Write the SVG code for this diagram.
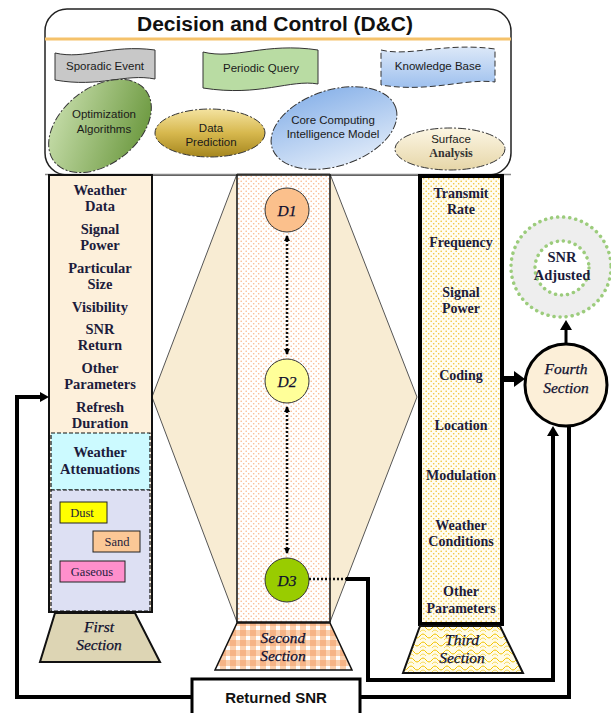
<svg xmlns="http://www.w3.org/2000/svg" width="611" height="713" viewBox="0 0 611 713">
<defs>
<style>
.ser{font-family:"Liberation Serif","Times New Roman",serif;font-weight:bold;font-size:14.5px;fill:#1c1c3c;text-anchor:middle}
.ser3{font-family:"Liberation Serif","Times New Roman",serif;font-weight:bold;font-size:14px;fill:#1c1c3c;text-anchor:middle}
.ita{font-family:"Liberation Serif","Times New Roman",serif;font-style:italic;font-size:15.5px;fill:#0e0e2e;text-anchor:middle;stroke:#0e0e2e;stroke-width:0.25}
.san{font-family:"Liberation Sans",Arial,sans-serif;font-size:11.5px;fill:#1a1a1a;text-anchor:middle}
.sm{font-family:"Liberation Serif","Times New Roman",serif;font-size:12.5px;fill:#1c1c3c;text-anchor:middle}
.thick{fill:none;stroke:#000;stroke-width:4}
.dd{stroke-dasharray:8 2 2 2}
</style>
<pattern id="pOrange" width="5" height="5" patternUnits="userSpaceOnUse"><rect width="5" height="5" fill="#fff"/><circle cx="1.2" cy="1.2" r="0.8" fill="#f9b98c"/><circle cx="3.7" cy="3.7" r="0.8" fill="#f9b98c"/></pattern>
<pattern id="pYellow" width="5" height="5" patternUnits="userSpaceOnUse"><rect width="5" height="5" fill="#fffdf2"/><circle cx="1.2" cy="1.2" r="0.8" fill="#f2c230"/><circle cx="3.7" cy="3.7" r="0.8" fill="#f2c230"/></pattern>
<pattern id="pCheck" width="10" height="10" patternUnits="userSpaceOnUse"><rect width="10" height="10" fill="#fff"/><rect width="6" height="10" fill="#fbd0ae"/><rect width="10" height="6" fill="#fbd0ae"/><rect width="6" height="6" fill="#f6b486"/></pattern>
<pattern id="pWave" width="12" height="8" patternUnits="userSpaceOnUse"><rect width="12" height="8" fill="#fffbe6"/><path d="M0,4 Q3,0 6,4 T12,4" fill="none" stroke="#f2c200" stroke-width="1"/><path d="M0,8 Q3,4 6,8" fill="none" stroke="#f2c200" stroke-width="0.6"/></pattern>
<linearGradient id="gGreen" x1="0" y1="0" x2="1" y2="1"><stop offset="0" stop-color="#d2e6b8"/><stop offset="1" stop-color="#5f8f30"/></linearGradient>
<linearGradient id="gGold" x1="0" y1="0" x2="0" y2="1"><stop offset="0" stop-color="#f4e3a0"/><stop offset="0.5" stop-color="#d7b84e"/><stop offset="1" stop-color="#a5861e"/></linearGradient>
<linearGradient id="gBlue" x1="0" y1="0" x2="0" y2="1"><stop offset="0" stop-color="#8fb6ea"/><stop offset="1" stop-color="#dce8f8"/></linearGradient>
<linearGradient id="gKB" x1="0" y1="0" x2="0" y2="1"><stop offset="0" stop-color="#dce8f8"/><stop offset="1" stop-color="#9ec0ee"/></linearGradient>
<linearGradient id="gBeige" x1="0" y1="0" x2="0" y2="1"><stop offset="0" stop-color="#fcf6e4"/><stop offset="1" stop-color="#e6d6a8"/></linearGradient>
<marker id="ahS" markerWidth="6" markerHeight="6" refX="5" refY="3" orient="auto-start-reverse" markerUnits="userSpaceOnUse"><path d="M0,0 L6,3 L0,6 Z" fill="#000"/></marker>
</defs>

<!-- Decision and Control -->
<g id="dc">
<rect x="45" y="9" width="466" height="166" rx="22" fill="#fff" stroke="#222" stroke-width="1.5"/>
<line x1="45" y1="39" x2="511" y2="39" stroke="#f5c26b" stroke-width="3"/>
<text x="275" y="31" font-family="Liberation Sans,Arial,sans-serif" font-weight="bold" font-size="20" fill="#111" text-anchor="middle" textLength="276" lengthAdjust="spacingAndGlyphs">Decision and Control (D&amp;C)</text>
</g>
<g id="sporadic">
<path d="M55,53 C85,60 110,44 155,50 L155,79 C125,73 100,88 55,80 Z" fill="#c8c8c8" stroke="#333" stroke-width="1"/>
<text class="san" x="105" y="70" font-size="10.5">Sporadic Event</text>
</g>
<g id="periodic">
<path d="M203,52 C235,60 265,42 318,50 L318,84 C290,79 260,97 203,88 Z" fill="#b9dca3" stroke="#333" stroke-width="1"/>
<text class="san" x="261" y="72" font-size="10.5">Periodic Query</text>
</g>
<g id="kb">
<path d="M381,50 C410,57 445,42 495,49 L495,82 C465,78 430,93 381,85 Z" fill="url(#gKB)" stroke="#333" stroke-width="1" stroke-dasharray="6 3"/>
<text class="san" x="438" y="70" font-size="10.5">Knowledge Base</text>
</g>
<g id="optim">
<ellipse cx="100" cy="126" rx="58" ry="38" transform="rotate(-38 100 126)" fill="url(#gGreen)" stroke="#333" stroke-width="1" class="dd"/>
<text class="san" x="104" y="118" font-size="12.5">Optimization</text>
<text class="san" x="104" y="133" font-size="12.5">Algorithms</text>
</g>
<g id="dataPred">
<ellipse cx="210" cy="133" rx="55" ry="24" fill="url(#gGold)" stroke="#333" stroke-width="1" class="dd"/>
<text class="san" x="211" y="132" font-size="12">Data</text>
<text class="san" x="211" y="146" font-size="12">Prediction</text>
</g>
<g id="core">
<ellipse cx="334" cy="128" rx="65" ry="38" transform="rotate(-18 334 128)" fill="url(#gBlue)" stroke="#333" stroke-width="1" class="dd"/>
<text class="san" x="333" y="124" font-size="12">Core Computing</text>
<text class="san" x="333" y="138" font-size="12">Intelligence Model</text>
</g>
<g id="surface">
<ellipse cx="450" cy="149" rx="55" ry="21" fill="url(#gBeige)" stroke="#333" stroke-width="1" class="dd"/>
<text class="san" x="451" y="143" font-size="12">Surface</text>
<text x="451" y="157" font-family="Liberation Serif,serif" font-weight="bold" font-size="12" fill="#333" text-anchor="middle">Analysis</text>
</g>
<line x1="45" y1="174.5" x2="511" y2="174.5" stroke="#888" stroke-width="1.5"/>

<!-- hexagon -->
<g id="hex">
<path d="M237,174 L152,397 L237,622 L330,622 L417,397 L330,174 Z" fill="#f8ecd3" stroke="#555" stroke-width="1"/>
</g>

<!-- First column -->
<g id="first">
<rect x="49" y="175" width="103" height="437" fill="#fdf0db" stroke="#111" stroke-width="2"/>
<rect x="51" y="433" width="99" height="57" fill="#ccfaff" stroke="#111" stroke-width="1.2" stroke-dasharray="4 2"/>
<rect x="51" y="490" width="99" height="121" fill="#dde0f3" stroke="#111" stroke-width="1.2" stroke-dasharray="4 2"/>
<text class="ser" x="100" y="195">Weather</text>
<text class="ser" x="100" y="211">Data</text>
<text class="ser" x="100" y="234">Signal</text>
<text class="ser" x="100" y="250">Power</text>
<text class="ser" x="100" y="273">Particular</text>
<text class="ser" x="100" y="289">Size</text>
<text class="ser" x="100" y="312">Visibility</text>
<text class="ser" x="100" y="334">SNR</text>
<text class="ser" x="100" y="350">Return</text>
<text class="ser" x="100" y="373">Other</text>
<text class="ser" x="100" y="389">Parameters</text>
<text class="ser" x="100" y="412">Refresh</text>
<text class="ser" x="100" y="428">Duration</text>
<text class="ser" x="100" y="457">Weather</text>
<text class="ser" x="100" y="474">Attenuations</text>
</g>
<g id="dust"><rect x="60" y="502" width="47" height="21" fill="#ffff00" stroke="#222" stroke-width="1"/><text class="sm" x="82" y="517">Dust</text></g>
<g id="sand"><rect x="93" y="531" width="47" height="21" fill="#fbc896" stroke="#222" stroke-width="1"/><text class="sm" x="117" y="546">Sand</text></g>
<g id="gaseous"><rect x="60" y="561" width="65" height="21" fill="#ff8fcc" stroke="#222" stroke-width="1"/><text class="sm" x="92" y="576">Gaseous</text></g>
<g id="firstSection">
<path d="M55,613 L135,613 L160,662 L40,662 Z" fill="#ddd5b4" stroke="#111" stroke-width="2"/>
<text class="ita" x="99" y="632">First</text>
<text class="ita" x="99" y="650">Section</text>
</g>

<!-- Second column -->
<g id="second">
<rect x="237" y="175" width="93" height="447" fill="url(#pOrange)" stroke="#111" stroke-width="1.5"/>
</g>
<g id="secondSection">
<path d="M237,623 L330,623 L352,670 L215,670 Z" fill="url(#pCheck)" stroke="#111" stroke-width="1.5"/>
<text class="ita" x="283" y="643">Second</text>
<text class="ita" x="283" y="661">Section</text>
</g>
<g id="d1"><circle cx="287" cy="210" r="22" fill="#fbc08c" stroke="#333" stroke-width="1"/><text class="ita" x="287" y="216">D1</text></g>
<g id="d2"><circle cx="287" cy="381" r="22" fill="#ffff99" stroke="#333" stroke-width="1"/><text class="ita" x="287" y="387">D2</text></g>
<g id="d3"><circle cx="287" cy="580" r="22" fill="#99cc00" stroke="#333" stroke-width="1"/><text class="ita" x="287" y="586">D3</text></g>

<!-- Third column -->
<g id="third">
<rect x="420" y="176" width="82" height="448" fill="url(#pYellow)" stroke="#000" stroke-width="4"/>
<text class="ser3" x="461" y="198">Transmit</text>
<text class="ser3" x="461" y="214">Rate</text>
<text class="ser3" x="461" y="247">Frequency</text>
<text class="ser3" x="461" y="297">Signal</text>
<text class="ser3" x="461" y="313">Power</text>
<text class="ser3" x="461" y="380">Coding</text>
<text class="ser3" x="461" y="430">Location</text>
<text class="ser3" x="461" y="480">Modulation</text>
<text class="ser3" x="461" y="530">Weather</text>
<text class="ser3" x="461" y="546">Conditions</text>
<text class="ser3" x="461" y="596">Other</text>
<text class="ser3" x="461" y="613">Parameters</text>
</g>
<g id="thirdSection">
<path d="M420,626 L500,626 L523,673 L403,673 Z" fill="url(#pWave)" stroke="#111" stroke-width="2"/>
<text class="ita" x="462" y="645">Third</text>
<text class="ita" x="462" y="663">Section</text>
</g>

<!-- Fourth section -->
<g id="fourth">
<circle cx="566" cy="385" r="41" fill="#fcefd8" stroke="#000" stroke-width="3"/>
<text class="ita" x="566" y="374" font-size="16">Fourth</text>
<text class="ita" x="566" y="393" font-size="16">Section</text>
</g>
<g id="snrAdj">
<circle cx="561" cy="267" r="50" fill="#eeeeee" stroke="#9ccc7c" stroke-width="3.5" stroke-dasharray="0.1 6" stroke-linecap="round"/>
<circle cx="562" cy="268" r="27" fill="#ffffff" stroke="#9ccc7c" stroke-width="3.5" stroke-dasharray="0.1 6" stroke-linecap="round"/>
<text class="ser" x="562" y="262">SNR</text>
<text class="ser" x="562" y="280">Adjusted</text>
</g>

<g id="returned">
<rect x="192" y="679" width="168" height="36" fill="#fff" stroke="#000" stroke-width="3"/>
<text x="276" y="703" font-family="Liberation Sans,Arial,sans-serif" font-weight="bold" font-size="15" fill="#111" text-anchor="middle">Returned SNR</text>
</g>

<!-- connectors -->
<g id="connectors">
<line x1="287" y1="236" x2="287" y2="354" stroke="#111" stroke-width="2.5" stroke-dasharray="2 2" marker-start="url(#ahS)" marker-end="url(#ahS)"/>
<line x1="287" y1="407" x2="287" y2="553" stroke="#111" stroke-width="2.5" stroke-dasharray="2 2" marker-start="url(#ahS)" marker-end="url(#ahS)"/>
<line x1="309" y1="579" x2="346" y2="579" stroke="#111" stroke-width="2.5" stroke-dasharray="2 2"/>
<polyline class="thick" stroke-width="3" points="346,579 368,579 368,680 553,680 553,434"/>
<path d="M547,436 L553,426 L559,436 Z" fill="#000"/>
<polyline class="thick" points="360,697 569,697 569,425"/>
<polyline class="thick" points="192,697 17,697 17,397 42,397"/>
<path d="M40,392 L49,397 L40,402 Z" fill="#000"/>
<line x1="502" y1="379" x2="515" y2="379" stroke="#000" stroke-width="6"/>
<path d="M514,371 L525,379 L514,387 Z" fill="#000"/>
<line x1="566" y1="344" x2="566" y2="328" stroke="#000" stroke-width="3"/>
<path d="M560,330 L566,320 L572,330 Z" fill="#000"/>
</g>
</svg>
